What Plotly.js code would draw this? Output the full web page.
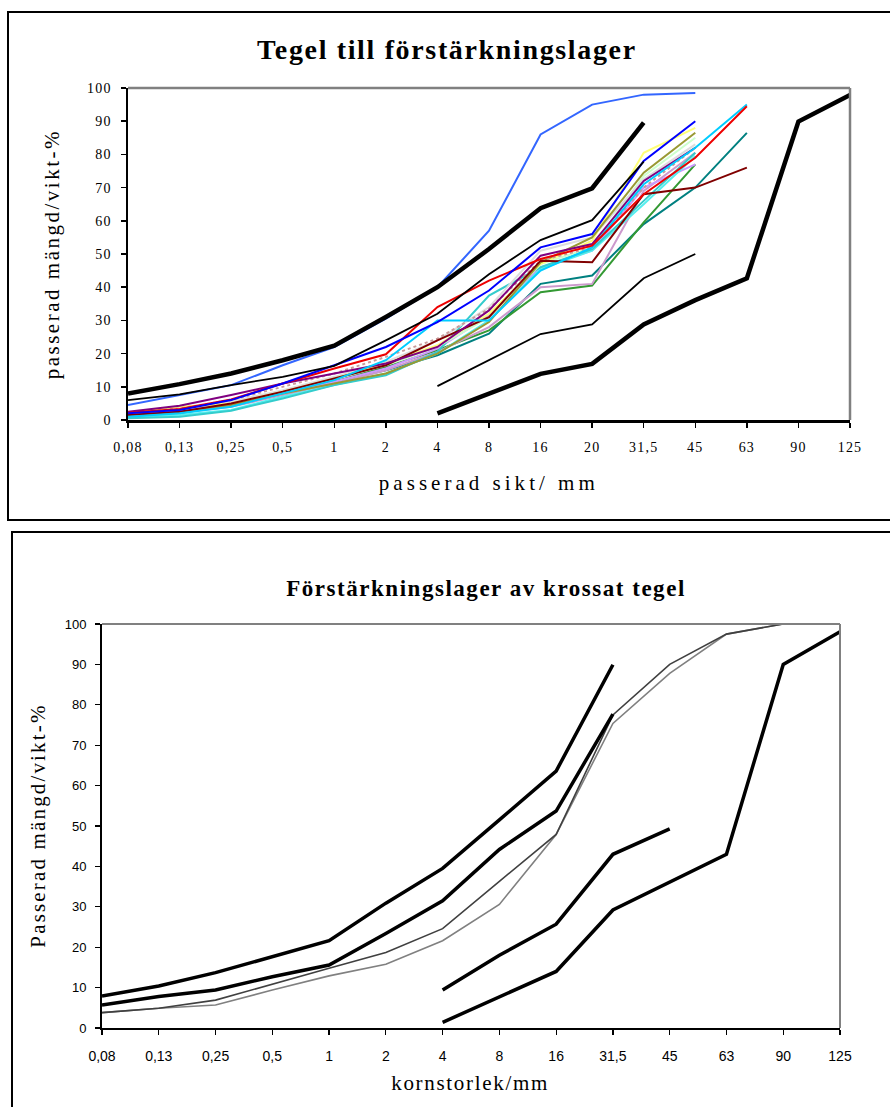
<!DOCTYPE html>
<html>
<head>
<meta charset="utf-8">
<script src="https://cdn.plot.ly/plotly-3.0.1.min.js"></script>
<style>
  html, body { margin: 0; padding: 0; background: #fff; }
  #chart { width: 890px; height: 1107px; }
  .xtick text, .ytick text { letter-spacing: 1.2px; }
</style>
</head>
<body>
<div id="chart"></div>
<script>
// ---------- categories ----------
const catsTop = ['0,08','0,13','0,25','0,5','1','2','4','8','16','20','31,5','45','63','90','125'];
const catsBottom = ['0,08','0,13','0,25','0,5','1','2','4','8','16','31,5','45','63','90','125'];

// ---------- top chart: limit curves ----------
const topLimitUpper      = [8, 10.8, 14, 18, 22.4, 31, 40, 51.5, 63.8, 69.8, 89.6];
const topLimitUpperThin  = [6, 7.7, 10.5, 13, 16.3, 24, 32, 43.9, 54.2, 60.2, 77.8];
const topLimitLowerThin  = [null, null, null, null, null, null, 10.2, 18.1, 25.9, 28.8, 42.7, 50];
const topLimitLower      = [null, null, null, null, null, null, 2, 8, 13.9, 16.9, 28.8, 36.1, 42.7, 89.9, 97.9];

// ---------- top chart: samples ----------
const topRoyalBlue  = [4.5, 7.5, 10.5, 16.5, 22, 30.5, 40, 57, 86, 95, 98, 98.5];
const topBlue       = [2, 3, 6, 11, 16.5, 22, 29.5, 39, 52, 56, 78, 90];
const topRed        = [2.2, 3.3, 6.2, 11, 15.5, 19.8, 34, 42, 48.5, 52.5, 68, 79, 94.5];
const topMaroon     = [1.5, 2.5, 5, 8.5, 12.5, 16.5, 24, 31, 48, 47.5, 68, 70, 76];
const topTeal       = [1, 2, 4.5, 8, 11.5, 15, 19.5, 26, 41, 43.5, 59, 70, 86.5];
const topGreen      = [1.2, 2.2, 4.5, 8, 11.5, 16, 21, 27, 38.5, 40.5, 59.5, 77];
const topOlive      = [1.5, 2.5, 4.5, 8, 11, 14, 20, 29.5, 47.5, 55, 74.5, 86.5];
const topYellow     = [2, 4, 5, 8.5, 12.5, 17, 22.5, 32, 47, 54, 80.5, 88];
const topCyan       = [1, 2, 4, 8, 12, 18, 30, 30, 45, 52, 71, 82, 95];
const topAqua       = [0.8, 1.5, 3, 7, 10.5, 14, 20, 30, 45.5, 51, 65, 79.5];
const topTurquoise  = [0.5, 1, 2.8, 6.5, 10.5, 13.5, 20.5, 37.5, 46, 51.5, 66, 80.5];
const topPurple     = [2.5, 4.3, 7.5, 11, 14, 17, 22, 33, 49.5, 53, 72, 82];
const topLavender   = [1.5, 2.5, 4.5, 8, 11.5, 15.5, 21.5, 31.5, 46, 51, 70, 77];
const topPlum       = [1.2, 2.2, 4, 7.5, 11, 15, 20.5, 28, 40, 41, 69, 80.5];
const topLightGray  = [1.8, 3, 5.5, 9, 13, 17.5, 24, 34, 51, 55, 72.5, 83];
const topPaleGreen  = [1.5, 2.8, 5.2, 8.5, 12.5, 16.5, 22, 31, 47, 52, 73.5, 85];
const topRosy       = [2, 3.5, 6, 10, 14, 19, 24.5, 33.5, 48, 52, 70, 82];

// ---------- bottom chart ----------
const botLimitUpper  = [7.9, 10.4, 13.7, 17.6, 21.6, 30.9, 39.5, 51.5, 63.6, 89.9];
const botLimitUpper2 = [5.7, 7.8, 9.4, 12.7, 15.6, 23.4, 31.5, 44.2, 53.7, 77.7];
const botLimitLower2 = [null, null, null, null, null, null, 9.4, 18, 25.7, 43, 49.3];
const botLimitLower  = [null, null, null, null, null, null, 1.4, 7.8, 14, 29.2, 36, 43, 90, 98.1];
const botSampleDark  = [3.8, 4.9, 6.9, 10.9, 14.8, 18.7, 24.6, 36.3, 47.9, 77.5, 90, 97.5, 100];
const botSampleLight = [3.8, 4.9, 5.7, 9.4, 12.9, 15.8, 21.6, 30.6, 47.9, 75.4, 87.8, 97.5, 100];

// ---------- styles ----------
const SERIF = '"Liberation Serif", "Times New Roman", serif';
const SANS = '"Liberation Sans", Arial, sans-serif';
const W = 890, H = 1107;
const px = v => v / W;
const py = v => 1 - v / H;

const topSamples = [
  [topTeal, '#008080', 2, 'solid'],
  [topGreen, '#339933', 2, 'solid'],
  [topPlum, '#CC99CC', 2, 'solid'],
  [topLavender, '#CC99FF', 2, 'solid'],
  [topAqua, '#55EEEE', 2, 'solid'],
  [topTurquoise, '#33CCCC', 2, 'solid'],
  [topPaleGreen, '#CCFFCC', 2, 'solid'],
  [topLightGray, '#DDDDDD', 2, 'solid'],
  [topYellow, '#FFFF77', 2, 'solid'],
  [topOlive, '#999933', 2, 'solid'],
  [topRosy, '#C89A9A', 2, 'dot'],
  [topMaroon, '#800000', 2, 'solid'],
  [topPurple, '#800080', 2, 'solid'],
  [topCyan, '#00CCFF', 2, 'solid'],
  [topRed, '#EE0000', 2, 'solid'],
  [topBlue, '#0000FF', 2, 'solid'],
  [topRoyalBlue, '#3366FF', 2, 'solid']
];

const data = [];
topSamples.forEach(([ys, c, w, d]) => {
  data.push({x: catsTop, y: ys, type: 'scatter', mode: 'lines', xaxis: 'x', yaxis: 'y',
    line: {color: c, width: w, dash: d}, connectgaps: false});
});
[[topLimitUpper, 4.5], [topLimitUpperThin, 1.8], [topLimitLowerThin, 1.8], [topLimitLower, 4.5]].forEach(([ys, w]) => {
  data.push({x: catsTop, y: ys, type: 'scatter', mode: 'lines', xaxis: 'x', yaxis: 'y',
    line: {color: '#000', width: w}});
});

[[botSampleLight, '#808080', 1.6], [botSampleDark, '#404040', 1.6]].forEach(([ys, c, w]) => {
  data.push({x: catsBottom, y: ys, type: 'scatter', mode: 'lines', xaxis: 'x2', yaxis: 'y2',
    line: {color: c, width: w}});
});
[botLimitUpper, botLimitUpper2, botLimitLower2, botLimitLower].forEach(ys => {
  data.push({x: catsBottom, y: ys, type: 'scatter', mode: 'lines', xaxis: 'x2', yaxis: 'y2',
    line: {color: '#000', width: 3.5}});
});

const layout = {
  width: W, height: H,
  margin: {l: 0, r: 0, t: 0, b: 0},
  paper_bgcolor: '#fff', plot_bgcolor: '#fff',
  showlegend: false, hovermode: false,
  xaxis: {
    domain: [px(128), px(850)], anchor: 'y',
    type: 'category', categoryorder: 'array', categoryarray: catsTop,
    range: [0, catsTop.length - 1], autorange: false,
    showgrid: false, zeroline: false, showline: true, linecolor: '#000', linewidth: 2.5,
    ticks: 'outside', ticklen: 5, tickwidth: 1.5, tickcolor: '#000', dtick: 1,
    ticklabelstandoff: 8,
    tickfont: {family: SERIF, size: 14, color: '#000'}
  },
  yaxis: {
    domain: [py(420), py(88)], anchor: 'x',
    range: [0, 100], autorange: false, dtick: 10,
    showgrid: false, zeroline: false, showline: true, linecolor: '#000', linewidth: 2.5,
    ticks: 'outside', ticklen: 5, tickwidth: 1.5, tickcolor: '#000',
    ticklabelstandoff: 6,
    tickfont: {family: SERIF, size: 14, color: '#000'}
  },
  xaxis2: {
    domain: [px(102), px(840)], anchor: 'y2',
    type: 'category', categoryorder: 'array', categoryarray: catsBottom,
    range: [0, catsBottom.length - 1], autorange: false,
    showgrid: false, zeroline: false, showline: true, linecolor: '#000', linewidth: 2,
    ticks: 'outside', ticklen: 5, tickwidth: 1.2, tickcolor: '#000', dtick: 1,
    ticklabelstandoff: 9,
    tickfont: {family: SANS, size: 14, color: '#000'}
  },
  yaxis2: {
    domain: [py(1028), py(624)], anchor: 'x2',
    range: [0, 100], autorange: false, dtick: 10,
    showgrid: false, zeroline: false, showline: true, linecolor: '#000', linewidth: 2,
    ticks: 'outside', ticklen: 5, tickwidth: 1.2, tickcolor: '#000',
    ticklabelstandoff: 6,
    tickfont: {family: SANS, size: 13, color: '#000'}
  },
  shapes: [
    {type: 'rect', xref: 'paper', yref: 'paper', x0: px(8), x1: px(900), y0: py(520), y1: py(12),
      line: {color: '#000', width: 2}, fillcolor: 'rgba(0,0,0,0)', layer: 'below'},
    {type: 'rect', xref: 'paper', yref: 'paper', x0: px(12), x1: px(900), y0: py(1120), y1: py(532),
      line: {color: '#000', width: 2}, fillcolor: 'rgba(0,0,0,0)', layer: 'below'},
    {type: 'line', xref: 'x domain', yref: 'y domain', x0: 0, x1: 1, y0: 1, y1: 1, line: {color: '#808080', width: 2.5}},
    {type: 'line', xref: 'x domain', yref: 'y domain', x0: 1, x1: 1, y0: 0, y1: 1, line: {color: '#808080', width: 2.5}},
    {type: 'line', xref: 'x2 domain', yref: 'y2 domain', x0: 0, x1: 1, y0: 1, y1: 1, line: {color: '#808080', width: 2}},
    {type: 'line', xref: 'x2 domain', yref: 'y2 domain', x0: 1, x1: 1, y0: 0, y1: 1, line: {color: '#808080', width: 2}}
  ],
  annotations: [
    {text: '<b>Tegel till förstärkningslager</b>', xref: 'paper', yref: 'paper', x: px(447), y: py(49),
      showarrow: false, xanchor: 'center', yanchor: 'middle', font: {family: SERIF, size: 28, color: '#000'}},
    {text: 'passerad mängd/vikt-%', xref: 'paper', yref: 'paper', x: px(52), y: py(254), textangle: -90,
      showarrow: false, xanchor: 'center', yanchor: 'middle', font: {family: SERIF, size: 21, color: '#000'}},
    {text: 'passerad sikt/ mm', xref: 'paper', yref: 'paper', x: px(489), y: py(483),
      showarrow: false, xanchor: 'center', yanchor: 'middle', font: {family: SERIF, size: 21, color: '#000'}},
    {text: '<b>Förstärkningslager av krossat tegel</b>', xref: 'paper', yref: 'paper', x: px(486), y: py(588),
      showarrow: false, xanchor: 'center', yanchor: 'middle', font: {family: SERIF, size: 23, color: '#000'}},
    {text: 'Passerad mängd/vikt-%', xref: 'paper', yref: 'paper', x: px(38), y: py(826), textangle: -90,
      showarrow: false, xanchor: 'center', yanchor: 'middle', font: {family: SERIF, size: 21, color: '#000'}},
    {text: 'kornstorlek/mm', xref: 'paper', yref: 'paper', x: px(470), y: py(1083),
      showarrow: false, xanchor: 'center', yanchor: 'middle', font: {family: SERIF, size: 21, color: '#000'}}
  ]
};

// target text widths (px) for the annotations, used to set letter spacing
const annWidths = [378, 248, 216, 398, 242, 156];

Plotly.newPlot('chart', data, layout, {staticPlot: true, displayModeBar: false}).then(gd => {
  const texts = gd.querySelectorAll('.annotation-text');
  texts.forEach((t, i) => {
    if (i >= annWidths.length) return;
    const len = t.getComputedTextLength();
    const n = (t.textContent || '').length;
    if (n > 1 && len < annWidths[i]) {
      const sp = (annWidths[i] - len) / (n - 1);
      t.style.letterSpacing = sp.toFixed(2) + 'px';
    }
  });
});
</script>
</body>
</html>
